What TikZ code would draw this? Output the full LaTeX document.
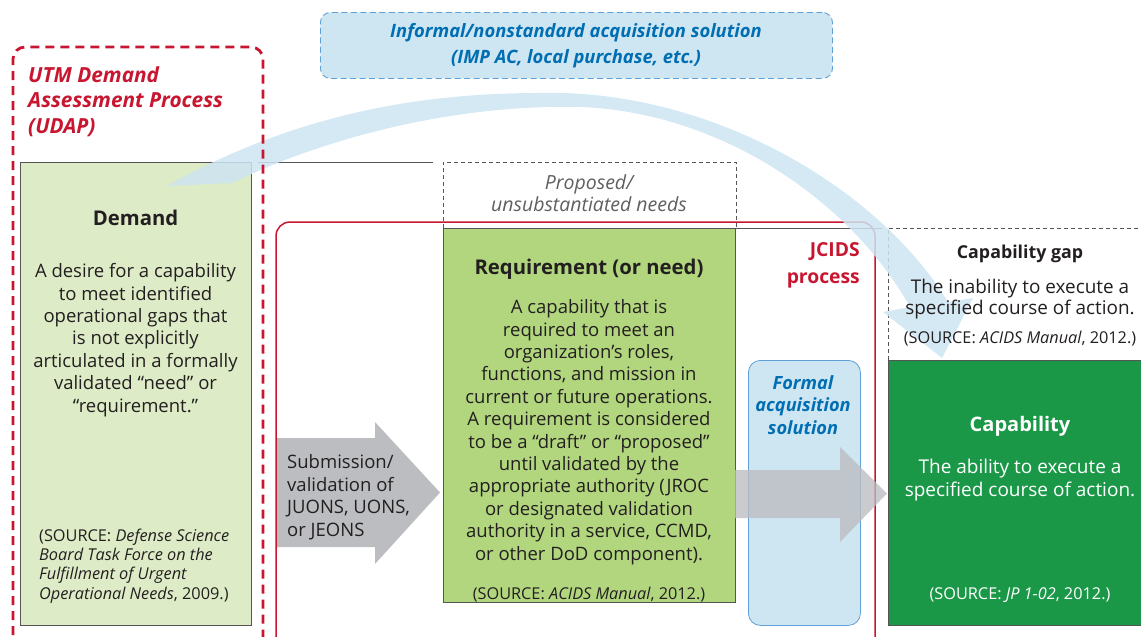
\documentclass[tikz,border=0pt]{standalone}
\usepackage{fontspec}
\setmainfont{Open Sans}
\usetikzlibrary{positioning}

\definecolor{udapred}{RGB}{200,22,48}
\definecolor{boxgray}{RGB}{85,85,85}
\definecolor{txtdark}{RGB}{35,31,32}
\definecolor{demandgreen}{RGB}{221,235,198}
\definecolor{reqgreen}{RGB}{178,214,126}
\definecolor{capgreen}{RGB}{26,152,72}
\definecolor{paleblue}{RGB}{206,229,242}
\definecolor{lineblue}{RGB}{95,160,215}
\definecolor{textblue}{RGB}{0,110,178}
\definecolor{arrgray}{RGB}{187,189,192}
\definecolor{notegray}{RGB}{95,95,95}

\begin{document}
\begin{tikzpicture}[x=1pt,y=-1pt,
    box/.style={draw=boxgray, line width=1.2pt},
    body/.style={font=\fontsize{18.5}{22.4}\selectfont, align=center, inner sep=0pt, text=txtdark},
    src/.style={font=\fontsize{16.3}{19.3}\selectfont, inner sep=0pt, text=txtdark},
    title/.style={font=\fontsize{20.3}{24}\selectfont\bfseries, inner sep=0pt, text=txtdark},
    bluelabel/.style={font=\fontsize{18.2}{22.5}\selectfont\bfseries\itshape, align=center, inner sep=0pt, text=textblue},
    redlabel/.style={font=\fontsize{19.3}{27}\selectfont\bfseries, inner sep=0pt, text=udapred},
    bigarrow/.style={fill=arrgray},
    thinline/.style={draw=boxgray, line width=0.9pt},
    dashline/.style={draw=boxgray, line width=0.9pt, dash pattern=on 4pt off 3pt}
]
    \useasboundingbox (0,0) rectangle (1141,637);

    % JCIDS frame
    \draw[udapred, line width=1.5pt, rounded corners=14pt]
        (276,650) -- (276,222) -- (875,222) -- (875,650);

    % Boxes
    \node[box, fill=demandgreen, minimum width=231, minimum height=463, anchor=north west] (demand) at (20,162) {};
    \node[box, fill=reqgreen, minimum width=292, minimum height=374, anchor=north west] (req) at (443,228) {};
    \node[box, fill=capgreen, minimum width=260, minimum height=265, anchor=north west] (cap) at (888,360) {};

    % Connecting lines
    \draw[thinline] (258,162) -- (433,162);
    \draw[thinline] (735,228) -- (882,228);
    \draw[dashline] (req.north west) -- ++(0,-66) -| (req.north east);
    \draw[dashline] (cap.north west) -- ++(0,-132) -- ++(260,0);

    % Submission arrow
    \coordinate (subtail) at (277,492.5);
    \fill[bigarrow] (subtail) ++(0,-54.5) -- (375,438) -- (375,422) -- (440,492.5)
        -- (375,564) -- (375,547) -- (277,547) -- cycle;

    % Formal acquisition solution
    \node[draw=lineblue, line width=0.8pt, fill=paleblue, rounded corners=12pt,
        minimum width=112, minimum height=265, anchor=north west] (formal) at (748,360) {};
    \fill[arrgray, opacity=0.78] (735,470) -- (840,470) -- (840,447) -- (887,493.5)
        -- (840,542) -- (840,518) -- (735,518) -- cycle;

    % Informal box
    \node[draw=lineblue, line width=0.9pt, dash pattern=on 6pt off 3.5pt, fill=paleblue,
        rounded corners=10pt, minimum width=512, minimum height=66, anchor=north west] (informal) at (320,12) {};

    % Informal arc
    \fill[paleblue, opacity=0.85] (167,186) .. controls (320,100) and (460,92) .. (560,93)
        .. controls (720,96) and (880,190) .. (948,302) -- (973,298) -- (942,358)
        -- (883,312) -- (910,307) .. controls (850,200) and (720,112) .. (580,107)
        .. controls (450,104) and (320,140) .. (232,183) -- cycle;

    % UDAP frame
    \draw[udapred, line width=2.8pt, dash pattern=on 9pt off 6pt, rounded corners=12pt]
        (13,650) -- (13,47) -- (263,47) -- (263,650);

    % Labels (base = last line)
    \node[bluelabel, font=\fontsize{18.4}{25}\selectfont\bfseries\itshape, anchor=base] (informaltext) at (576,63)
        {Informal/nonstandard acquisition solution\\(IMP AC, local purchase, etc.)};
    \node[redlabel, font=\fontsize{20.8}{25.5}\selectfont\bfseries\itshape, align=left, anchor=base west] (udap) at (28,133)
        {UTM Demand\\Assessment Process\\(UDAP)};
    \node[redlabel, align=right, anchor=base east] (jcids) at (860,283) {JCIDS\\process};
    \node[body, font=\fontsize{19.5}{22}\selectfont\itshape, text=notegray, anchor=base] (proposed) at (589,211)
        {Proposed/\\unsubstantiated needs};
    \node[bluelabel, anchor=base] (formaltext) at (803,434) {Formal\\acquisition\\solution};
    \node[body, align=left, anchor=base west] (submit) at (287,536)
        {Submission/\\validation of\\JUONS, UONS,\\or JEONS};

    % Demand text
    \node[title, anchor=base] (demandtitle) at (135.5,225) {Demand};
    \node[body, anchor=base] (demandtext) at (135.5,412)
        {A desire for a capability\\to meet identified\\operational gaps that\\is not explicitly\\articulated in a formally\\validated “need” or\\“requirement.”};
    \node[src, align=left, anchor=base west] (demandsrc) at (39,599)
        {(SOURCE: \textit{Defense Science}\\\textit{Board Task Force on the}\\\textit{Fulfillment of Urgent}\\\textit{Operational Needs}, 2009.)};

    % Requirement text
    \node[title, anchor=base] (reqtitle) at (589,274) {Requirement (or need)};
    \node[body, anchor=base] (reqtext) at (589,560)
        {A capability that is\\required to meet an\\organization's roles,\\functions, and mission in\\current or future operations.\\A requirement is considered\\to be a “draft” or “proposed”\\until validated by the\\appropriate authority (JROC\\or designated validation\\authority in a service, CCMD,\\or other DoD component).};
    \node[src, anchor=base] (reqsrc) at (589,599) {(SOURCE: \textit{ACIDS Manual}, 2012.)};

    % Capability gap text
    \node[title, font=\fontsize{17.8}{20}\selectfont\bfseries, anchor=base] (gaptitle) at (1020,258) {Capability gap};
    \node[body, font=\fontsize{18.9}{21}\selectfont, anchor=base] (gaptext) at (1020,314)
        {The inability to execute a\\specified course of action.};
    \node[src, anchor=base] (gapsrc) at (1020,343) {(SOURCE: \textit{ACIDS Manual}, 2012.)};

    % Capability text
    \node[title, font=\fontsize{20}{24}\selectfont\bfseries, text=white, anchor=base] (captitle) at (1020,431) {Capability};
    \node[body, font=\fontsize{19}{23}\selectfont, text=white, anchor=base] (captext) at (1020,496)
        {The ability to execute a\\specified course of action.};
    \node[src, text=white, anchor=base] (capsrc) at (1020,599) {(SOURCE: \textit{JP 1-02}, 2012.)};

\end{tikzpicture}
\end{document}
